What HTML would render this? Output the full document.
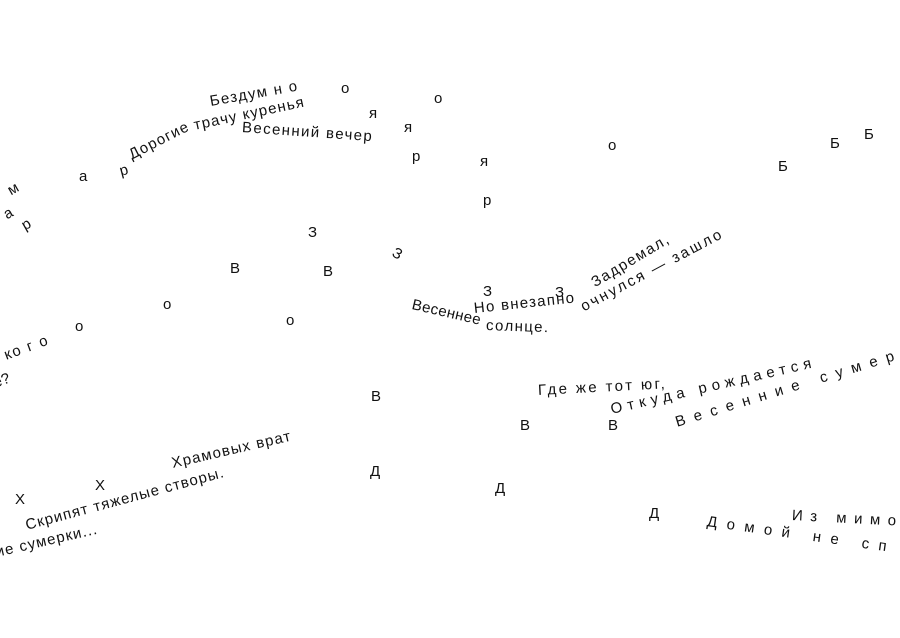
<!DOCTYPE html>
<html><head><meta charset="utf-8"><style>
html,body{margin:0;padding:0;background:#fff;}
body{width:900px;height:638px;position:relative;overflow:hidden;font-family:"Liberation Sans","DejaVu Sans",sans-serif;font-size:15px;color:#111;}
.t{position:absolute;white-space:nowrap;line-height:16px;transform-origin:0 50%;}
</style></head><body>
<div class="t" style="left:210px;top:94px;transform:rotate(-10deg);letter-spacing:1.4px">Бездум н о</div>
<div class="t" style="left:341px;top:81px">о</div>
<div class="t" style="left:434px;top:91px">о</div>
<div class="t" style="left:608px;top:138px">о</div>
<div class="t" style="left:778px;top:159px">Б</div>
<div class="t" style="left:830px;top:136px">Б</div>
<div class="t" style="left:864px;top:127px">Б</div>

<div class="t" style="left:130px;top:148px;transform:rotate(-27deg);letter-spacing:1.2px">Дорогие</div>
<div class="t" style="left:194px;top:118px;transform:rotate(-12deg);letter-spacing:1.2px">трачу куренья</div>
<div class="t" style="left:242px;top:120px;transform:rotate(4deg);letter-spacing:1.4px">Весенний вечер</div>
<div class="t" style="left:369px;top:106px">я</div>
<div class="t" style="left:404px;top:120px">я</div>
<div class="t" style="left:480px;top:154px">я</div>
<div class="t" style="left:412px;top:149px">р</div>
<div class="t" style="left:483px;top:193px">р</div>

<div class="t" style="left:9px;top:184px;transform:rotate(-30deg)">м</div>
<div class="t" style="left:79px;top:169px">а</div>
<div class="t" style="left:120px;top:164px;transform:rotate(-15deg)">р</div>
<div class="t" style="left:5px;top:208px;transform:rotate(-30deg)">а</div>
<div class="t" style="left:23px;top:219px;transform:rotate(-30deg)">р</div>

<div class="t" style="left:308px;top:225px">З</div>
<div class="t" style="left:393px;top:244px;transform:rotate(30deg)">З</div>
<div class="t" style="left:230px;top:261px">В</div>
<div class="t" style="left:323px;top:264px">В</div>
<div class="t" style="left:483px;top:284px">З</div>
<div class="t" style="left:555px;top:285px">З</div>
<div class="t" style="left:163px;top:297px">о</div>
<div class="t" style="left:286px;top:313px">о</div>
<div class="t" style="left:75px;top:319px">о</div>

<div class="t" style="left:593px;top:276px;transform:rotate(-31deg);letter-spacing:1.6px">Задремал,</div>
<div class="t" style="left:474px;top:301px;transform:rotate(-6deg);letter-spacing:1.3px">Но внезапно</div>
<div class="t" style="left:582px;top:300px;transform:rotate(-28deg);letter-spacing:2.4px">очнулся — зашло</div>
<div class="t" style="left:412px;top:297px;transform:rotate(13deg);letter-spacing:0.4px">Весеннее</div>
<div class="t" style="left:486px;top:318px;transform:rotate(2deg);letter-spacing:1.4px">солнце.</div>

<div class="t" style="left:-6px;top:352px;transform:rotate(-20deg);letter-spacing:1.6px">, ко г о</div>
<div class="t" style="left:-6px;top:376px;transform:rotate(-20deg)">е?</div>

<div class="t" style="left:371px;top:389px">В</div>
<div class="t" style="left:520px;top:418px">В</div>
<div class="t" style="left:608px;top:418px">В</div>
<div class="t" style="left:370px;top:464px">Д</div>
<div class="t" style="left:495px;top:481px">Д</div>
<div class="t" style="left:649px;top:506px">Д</div>

<div class="t" style="left:538px;top:383px;transform:rotate(-3deg);letter-spacing:2.4px">Где же тот юг,</div>
<div class="t" style="left:611px;top:402px;transform:rotate(-13deg);letter-spacing:5.2px">Откуда рождается</div>
<div class="t" style="left:676px;top:415px;transform:rotate(-17deg);letter-spacing:8.8px">Весенние сумер</div>

<div class="t" style="left:792px;top:508px;transform:rotate(3deg);letter-spacing:7.5px">Из мимо</div>
<div class="t" style="left:707px;top:514px;transform:rotate(8deg);letter-spacing:9.5px">Домой не сп</div>

<div class="t" style="left:15px;top:492px">Х</div>
<div class="t" style="left:95px;top:478px">Х</div>
<div class="t" style="left:172px;top:456px;transform:rotate(-13deg);letter-spacing:1.2px">Храмовых врат</div>
<div class="t" style="left:26px;top:518px;transform:rotate(-15deg);letter-spacing:1.1px">Скрипят тяжелые створы.</div>
<div class="t" style="left:-4px;top:545px;transform:rotate(-13deg);letter-spacing:1.1px">ие сумерки...</div>
</body></html>
